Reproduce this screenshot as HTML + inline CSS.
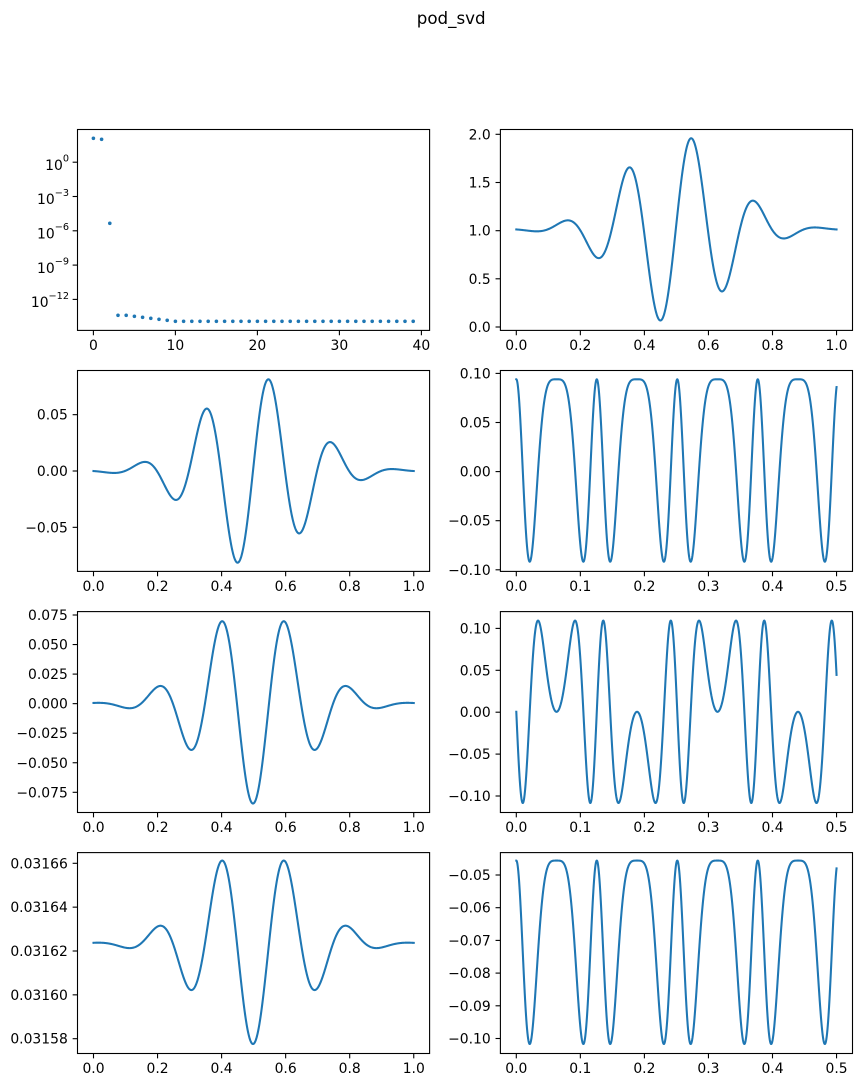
<!DOCTYPE html>
<html><head><meta charset="utf-8">
<style>
html,body{margin:0;padding:0;background:#fff;}
svg{display:block;}
text{font-family:"DejaVu Sans","Liberation Sans",sans-serif;font-size:13.9px;fill:#000;}
.t{font-size:16.7px;}
</style></head><body>
<svg id="s" width="861" height="1087" viewBox="0 0 861 1087" xmlns="http://www.w3.org/2000/svg">
<rect width="861" height="1087" fill="#fff"/>
<text class="t" x="451.2" y="24" text-anchor="middle">pod_svd</text>

<!-- Row 0 left: log y labels -->
<g text-anchor="end">
<text x="69" y="169.9">10<tspan dy="-8.3" font-size="9.7">0</tspan></text>
<text x="69" y="204.2">10<tspan dy="-8.3" font-size="9.7">−3</tspan></text>
<text x="69" y="238.5">10<tspan dy="-8.3" font-size="9.7">−6</tspan></text>
<text x="69" y="272.8">10<tspan dy="-8.3" font-size="9.7">−9</tspan></text>
<text x="69" y="307.1">10<tspan dy="-8.3" font-size="9.7">−12</tspan></text>
</g>
<g text-anchor="middle">
<text x="93.4" y="350">0</text>
<text x="175.4" y="350">10</text>
<text x="257.4" y="350">20</text>
<text x="339.4" y="350">30</text>
<text x="421.4" y="350">40</text>
</g>

<!-- Row 0 right -->
<g text-anchor="end">
<text x="490.7" y="332">0.0</text>
<text x="490.7" y="283.8">0.5</text>
<text x="490.7" y="235.7">1.0</text>
<text x="490.7" y="187.5">1.5</text>
<text x="490.7" y="139.3">2.0</text>
</g>
<g text-anchor="middle">
<text x="516.3" y="350">0.0</text>
<text x="580.35" y="350">0.2</text>
<text x="644.4" y="350">0.4</text>
<text x="708.45" y="350">0.6</text>
<text x="772.5" y="350">0.8</text>
<text x="836.55" y="350">1.0</text>
</g>

<!-- Row 1 left -->
<g text-anchor="end">
<text x="67.8" y="419.67">0.05</text>
<text x="67.8" y="476">0.00</text>
<text x="67.8" y="532.33">−0.05</text>
</g>
<g text-anchor="middle">
<text x="93.5" y="591">0.0</text>
<text x="157.55" y="591">0.2</text>
<text x="221.6" y="591">0.4</text>
<text x="285.65" y="591">0.6</text>
<text x="349.7" y="591">0.8</text>
<text x="413.75" y="591">1.0</text>
</g>

<!-- Row 1 right -->
<g text-anchor="end">
<text x="490.7" y="378.4">0.10</text>
<text x="490.7" y="427.5">0.05</text>
<text x="490.7" y="476.6">0.00</text>
<text x="490.7" y="525.7">−0.05</text>
<text x="490.7" y="574.8">−0.10</text>
</g>
<g text-anchor="middle">
<text x="516.3" y="591">0.0</text>
<text x="580.35" y="591">0.1</text>
<text x="644.4" y="591">0.2</text>
<text x="708.45" y="591">0.3</text>
<text x="772.5" y="591">0.4</text>
<text x="836.55" y="591">0.5</text>
</g>

<!-- Row 2 left -->
<g text-anchor="end">
<text x="67.8" y="620">0.075</text>
<text x="67.8" y="649.55">0.050</text>
<text x="67.8" y="679.1">0.025</text>
<text x="67.8" y="708.65">0.000</text>
<text x="67.8" y="738.2">−0.025</text>
<text x="67.8" y="767.75">−0.050</text>
<text x="67.8" y="797.3">−0.075</text>
</g>
<g text-anchor="middle">
<text x="93.5" y="832.1">0.0</text>
<text x="157.55" y="832.1">0.2</text>
<text x="221.6" y="832.1">0.4</text>
<text x="285.65" y="832.1">0.6</text>
<text x="349.7" y="832.1">0.8</text>
<text x="413.75" y="832.1">1.0</text>
</g>

<!-- Row 2 right -->
<g text-anchor="end">
<text x="490.7" y="633.4">0.10</text>
<text x="490.7" y="675.3">0.05</text>
<text x="490.7" y="717.2">0.00</text>
<text x="490.7" y="759.1">−0.05</text>
<text x="490.7" y="801">−0.10</text>
</g>
<g text-anchor="middle">
<text x="516.3" y="832.1">0.0</text>
<text x="580.35" y="832.1">0.1</text>
<text x="644.4" y="832.1">0.2</text>
<text x="708.45" y="832.1">0.3</text>
<text x="772.5" y="832.1">0.4</text>
<text x="836.55" y="832.1">0.5</text>
</g>

<!-- Row 3 left -->
<g text-anchor="end">
<text x="67.8" y="868.3">0.03166</text>
<text x="67.8" y="912.15">0.03164</text>
<text x="67.8" y="956">0.03162</text>
<text x="67.8" y="999.85">0.03160</text>
<text x="67.8" y="1043.7">0.03158</text>
</g>
<g text-anchor="middle">
<text x="93.5" y="1073.1">0.0</text>
<text x="157.55" y="1073.1">0.2</text>
<text x="221.6" y="1073.1">0.4</text>
<text x="285.65" y="1073.1">0.6</text>
<text x="349.7" y="1073.1">0.8</text>
<text x="413.75" y="1073.1">1.0</text>
</g>

<!-- Row 3 right -->
<g text-anchor="end">
<text x="490.7" y="880">−0.05</text>
<text x="490.7" y="912.7">−0.06</text>
<text x="490.7" y="945.4">−0.07</text>
<text x="490.7" y="978.1">−0.08</text>
<text x="490.7" y="1010.8">−0.09</text>
<text x="490.7" y="1043.5">−0.10</text>
</g>
<g text-anchor="middle">
<text x="516.3" y="1073.1">0.0</text>
<text x="580.35" y="1073.1">0.1</text>
<text x="644.4" y="1073.1">0.2</text>
<text x="708.45" y="1073.1">0.3</text>
<text x="772.5" y="1073.1">0.4</text>
<text x="836.55" y="1073.1">0.5</text>
</g>
</svg>
<script>
(function(){
var NS="http://www.w3.org/2000/svg", s=document.getElementById('s');
function el(tag,a){var e=document.createElementNS(NS,tag);for(var k in a)e.setAttribute(k,a[k]);s.appendChild(e);return e;}
var C="#1f77b4";
var L=[77.5,429.6], R=[500.4,852.5];
var rows=[[129.5,330.4],[370.5,571.4],[611.6,812.5],[852.6,1053.5]];
var xtL=[93.5,157.55,221.6,285.65,349.7,413.75], xtL0=[93.4,175.4,257.4,339.4,421.4], xtR=[516.3,580.35,644.4,708.45,772.5,836.55];
var yt={'00':[162.2,196.5,230.8,265.1,299.4],'01':[327,278.8,230.7,182.5,134.3],'10':[414.67,471,527.33],'11':[373.4,422.5,471.6,520.7,569.8],'20':[615,644.55,674.1,703.65,733.2,762.75,792.3],'21':[628.4,670.3,712.2,754.1,796.0],'30':[863.3,907.15,951.0,994.85,1038.7],'31':[875,907.7,940.4,973.1,1005.8,1038.5]};

function path(n,a,b,fx,fy){var d='';for(var i=0;i<=n;i++){var x=a+(b-a)*i/n;d+=(i?'L':'M')+fx(x).toFixed(2)+' '+fy(x).toFixed(2);}
  el('path',{d:d,fill:'none',stroke:C,'stroke-width':2.08,'stroke-linejoin':'round','stroke-linecap':'square'});}

var c=0.498,k=10*Math.PI;
function env(d){return Math.exp(-20*d*d);}
function fo(x){var d=x-c;return env(d)*Math.sin(k*d);}
function fe(x){var d=x-c;return env(d)*Math.cos(k*d);}
function XL(x){return 93.5+320.25*x;}
function XR(x){return 516.3+320.25*x;}
path(1000,0,1,XR,function(x){return 229.4-95.6*fo(x);});
path(1000,0,1,XL,function(x){return 471-96.2*fo(x);});
path(1000,0,1,XL,function(x){return 703.65+99.9*fe(x);});
path(1000,0,1,XL,function(x){return 943.5+100.5*fe(x);});

var Om=25.0;
function th(t){return 2*Math.PI*(1-Math.sin(Om*t));}
function XT(t){return 516.3+640.5*t;}
path(3000,0,0.5,XT,function(t){return 470.5-91.2*Math.cos(th(t));});
path(3000,0,0.5,XT,function(t){return 711.8-91.2*Math.sin(th(t));});
path(3000,0,0.5,XT,function(t){return 952.3-91.7*Math.cos(th(t));});

var py=[138.3,139.3,223.3,315.3,315.3,316.3,317.3,318.3,319.3,320.3];
for(var i=0;i<40;i++){var y=i<10?py[i]:321.3;el('circle',{cx:(93.4+8.2*i).toFixed(2),cy:y,r:1.8,fill:C});}

function tk(x1,y1,x2,y2){el('line',{x1:x1,y1:y1,x2:x2,y2:y2,stroke:'#000','stroke-width':1.1});}
for(var r=0;r<4;r++){
  for(var col=0;col<2;col++){
    var X=col?R:L, Y=rows[r];
    var xs = col? xtR : (r==0? xtL0 : xtL);
    xs.forEach(function(x){tk(x,Y[1],x,Y[1]+4.86);});
    yt[''+r+col].forEach(function(y){tk(X[0]-4.86,y,X[0],y);});
    el('rect',{x:X[0],y:Y[0],width:X[1]-X[0],height:Y[1]-Y[0],fill:'none',stroke:'#000','stroke-width':1.1});
  }
}
})();
</script>
</body></html>
